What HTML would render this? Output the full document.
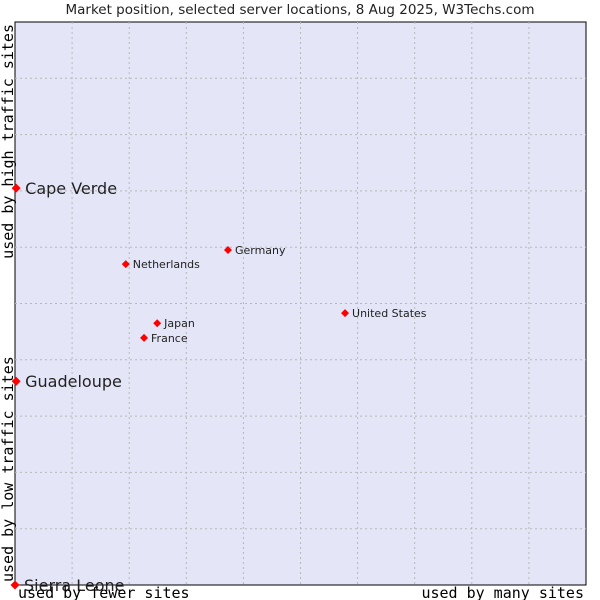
<!DOCTYPE html>
<html><head><meta charset="utf-8"><style>body{margin:0;background:#fff}svg{display:block}</style></head>
<body>
<svg id="chart" width="600" height="600" xmlns="http://www.w3.org/2000/svg">
<text x="300" y="14" text-anchor="middle" font-family="DejaVu Sans, sans-serif" font-size="13.5" fill="#222">Market position, selected server locations, 8 Aug 2025, W3Techs.com</text>
<rect x="15" y="22" width="571" height="563" fill="#e4e6f8" stroke="#000" stroke-width="1"/>
<g id="grid"></g>
<g id="points"></g>
<text x="18" y="598" font-family="DejaVu Sans Mono, monospace" font-size="15" fill="#000">used by fewer sites</text>
<text x="584" y="598" text-anchor="end" font-family="DejaVu Sans Mono, monospace" font-size="15" fill="#000">used by many sites</text>
<text transform="translate(13,582) rotate(-90)" font-family="DejaVu Sans Mono, monospace" font-size="15" fill="#000">used by low traffic sites</text>
<text transform="translate(13,24) rotate(-90)" text-anchor="end" font-family="DejaVu Sans Mono, monospace" font-size="15" fill="#000">used by high traffic sites</text>
</svg>
<script>
const names = ["Cape Verde","Guadeloupe","Sierra Leone","Netherlands","Germany","Japan","France","United States"];
const xValues = [0.2,0.2,0,19.4,37.3,24.9,22.6,57.8];
const yValues = [70.5,36.2,0,57.0,59.5,46.5,43.9,48.3];
const bigLabel = [true,true,true,false,false,false,false,false];
const L=15,T=22,W=571,H=563;
const sx=v=>L+v/100*W, sy=v=>T+H-v/100*H;
const NS="http://www.w3.org/2000/svg";
const grid=document.getElementById('grid'), pts=document.getElementById('points');
for(let i=1;i<10;i++){
  let v=document.createElementNS(NS,'line');
  v.setAttribute('x1',sx(i*10));v.setAttribute('x2',sx(i*10));v.setAttribute('y1',T);v.setAttribute('y2',T+H);
  v.setAttribute('stroke','#b8b8b8');v.setAttribute('stroke-dasharray','2,3');
  
  
  grid.appendChild(v);
  let h=document.createElementNS(NS,'line');
  h.setAttribute('y1',sy(i*10));h.setAttribute('y2',sy(i*10));h.setAttribute('x1',L);h.setAttribute('x2',L+W);
  h.setAttribute('stroke','#b8b8b8');h.setAttribute('stroke-dasharray','2,3');
  
  
  grid.appendChild(h);
}
names.forEach((n,i)=>{
  const x=sx(xValues[i]), y=sy(yValues[i]);
  const p=document.createElementNS(NS,'path');
  const r=bigLabel[i]?4.5:4;
  p.setAttribute('d',`M${x} ${y-r}L${x+r} ${y}L${x} ${y+r}L${x-r} ${y}Z`);
  p.setAttribute('fill','#f00');
  
  
  pts.appendChild(p);
  const t=document.createElementNS(NS,'text');
  t.setAttribute('x',x+(bigLabel[i]?9:7));
  t.setAttribute('y',y+(bigLabel[i]?6:4));
  t.setAttribute('font-family','DejaVu Sans, sans-serif');
  t.setAttribute('font-size',bigLabel[i]?'16':'11');
  t.setAttribute('fill','#222');
  t.textContent=n;
  
  
  pts.appendChild(t);
});
</script>
</body></html>
